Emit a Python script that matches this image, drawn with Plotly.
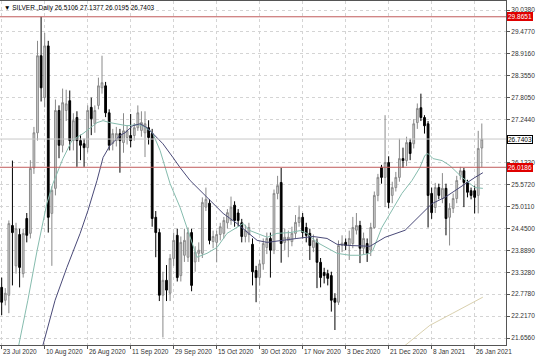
import plotly.graph_objects as go

opens = [22.95, 22.62, 22.75, 24.53, 23.50, 24.30, 23.30, 24.71, 24.33, 26.00,
         26.90, 28.87, 27.80, 29.12, 24.84, 25.48, 27.47, 26.58, 27.47, 27.72,
         26.70, 27.29, 26.70, 26.62, 26.52, 27.55, 27.13, 27.60, 28.05, 28.10,
         27.41, 26.63, 26.70, 26.88, 26.65, 26.78, 26.83, 26.83, 27.03, 26.96,
         26.90, 27.03, 26.88, 24.74, 24.35, 22.75, 23.13, 22.80, 23.69, 24.28,
         23.25, 23.77, 23.72, 24.35, 23.60, 23.82, 23.82, 25.00, 25.10, 24.12,
         24.10, 24.30, 24.33, 24.60, 24.66, 25.05, 24.85, 24.60, 24.25, 24.30,
         24.05, 23.38, 23.20, 23.55, 23.97, 24.20, 23.90, 25.35, 25.63, 24.10,
         24.15, 24.12, 24.33, 24.61, 24.74, 24.48, 24.33, 23.97, 24.10, 23.59,
         23.33, 23.30, 23.25, 22.67, 22.57, 24.02, 24.10, 24.02, 24.07, 24.41,
         24.53, 23.95, 24.07, 23.90, 24.48, 25.30, 26.02, 25.76, 26.14, 25.30,
         25.50, 25.76, 26.24, 26.19, 26.65, 26.62, 27.16, 27.54, 27.29, 27.13,
         25.35, 24.99, 25.50, 25.22, 25.48, 24.74, 24.97, 25.22, 25.81, 25.93,
         25.63, 25.42, 25.42, 25.30, 26.5106]
highs = [23.20, 22.93, 24.66, 26.19, 24.60, 24.45, 24.45, 24.85, 26.20, 27.05,
         29.25, 29.865, 29.45, 29.25, 25.53, 27.75, 27.60, 28.03, 28.00, 27.98,
         27.40, 27.45, 26.85, 26.75, 27.60, 27.80, 27.60, 28.31, 28.87, 28.20,
         27.50, 27.00, 27.05, 27.00, 27.40, 27.10, 27.38, 27.15, 27.60, 27.45,
         27.45, 27.22, 27.00, 24.90, 24.45, 23.35, 23.52, 23.80, 24.35, 24.45,
         24.25, 24.45, 24.48, 24.45, 24.00, 24.10, 25.25, 25.50, 25.20, 24.40,
         24.40, 24.60, 24.75, 24.95, 25.27, 25.15, 24.95, 24.70, 24.55, 24.60,
         24.20, 23.50, 23.65, 24.20, 24.35, 24.35, 25.45, 25.80, 26.00, 24.45,
         24.40, 24.50, 24.80, 25.04, 24.85, 24.60, 24.45, 24.30, 24.20, 23.70,
         23.45, 23.40, 23.35, 22.80, 24.15, 24.28, 24.20, 24.40, 24.75, 24.85,
         24.65, 24.35, 24.20, 24.60, 25.40, 25.85, 26.08, 27.35, 26.30, 25.65,
         25.90, 26.75, 26.52, 26.80, 26.75, 27.25, 27.65, 27.90, 27.35, 27.20,
         25.50, 25.62, 25.60, 25.87, 25.60, 25.10, 25.35, 25.80, 26.03, 26.00,
         25.70, 25.50, 25.55, 26.95, 27.1377]
lows = [22.24, 22.49, 22.29, 23.00, 23.30, 22.95, 23.20, 24.10, 24.20, 25.85,
        26.70, 27.70, 27.55, 24.35, 23.50, 25.30, 26.25, 26.40, 27.20, 26.45,
        26.45, 26.03, 26.20, 26.03, 26.40, 26.84, 26.90, 27.50, 27.90, 27.30,
        26.45, 26.45, 26.55, 25.88, 26.39, 26.60, 26.53, 26.70, 26.95, 26.80,
        26.28, 26.60, 24.50, 23.72, 22.60, 21.67, 22.60, 22.60, 23.50, 23.10,
        23.10, 23.60, 23.60, 22.85, 23.35, 23.60, 23.70, 24.90, 24.05, 23.95,
        23.59, 24.15, 24.20, 24.45, 24.55, 24.50, 24.50, 24.10, 24.10, 24.10,
        23.00, 22.57, 23.00, 23.40, 23.80, 23.20, 23.80, 25.20, 23.58, 23.90,
        23.72, 24.00, 24.20, 24.50, 24.20, 24.10, 23.65, 23.85, 22.93, 22.95,
        23.05, 23.00, 22.33, 21.86, 22.50, 23.85, 23.90, 23.65, 23.95, 24.30,
        23.57, 23.80, 23.60, 23.75, 24.45, 25.15, 25.60, 25.00, 24.97, 25.10,
        25.40, 25.65, 26.00, 26.05, 26.20, 26.50, 27.00, 27.20, 26.88, 24.48,
        24.70, 24.85, 25.20, 25.10, 24.28, 24.02, 24.85, 25.10, 25.70, 25.00,
        25.25, 25.20, 24.84, 24.84, 26.0195]
closes = [22.57, 22.80, 24.58, 24.35, 24.45, 23.46, 24.33, 24.28, 25.99, 26.90,
          28.87, 28.05, 29.12, 24.74, 25.43, 27.47, 26.58, 27.67, 27.64, 26.70,
          27.21, 26.70, 26.58, 26.52, 27.47, 27.26, 27.47, 28.10, 28.18, 27.41,
          26.58, 26.88, 26.88, 26.70, 26.95, 26.95, 26.70, 27.03, 27.41, 27.16,
          27.13, 26.78, 24.71, 24.35, 22.75, 23.13, 22.88, 23.69, 24.15, 23.20,
          24.10, 24.15, 24.35, 23.00, 23.85, 23.90, 25.12, 25.20, 24.15, 24.25,
          24.30, 24.50, 24.66, 24.86, 25.00, 24.66, 24.66, 24.25, 24.40, 24.48,
          23.35, 23.20, 23.55, 24.07, 24.20, 23.90, 25.35, 25.55, 24.07, 24.23,
          24.23, 24.33, 24.61, 24.74, 24.35, 24.28, 24.02, 24.15, 23.59, 23.20,
          23.25, 23.18, 22.62, 22.57, 24.02, 24.08, 24.02, 24.20, 24.48, 24.53,
          23.95, 24.20, 23.82, 24.48, 25.30, 25.76, 25.76, 26.14, 25.12, 25.50,
          25.76, 26.24, 26.19, 26.65, 26.37, 27.13, 27.52, 27.29, 27.08, 25.30,
          24.86, 25.50, 25.30, 25.48, 24.71, 24.97, 25.22, 25.68, 25.93, 25.63,
          25.38, 25.30, 25.25, 26.50, 26.7403]
bar_idx = list(range(len(opens)))

# moving averages (bar position, value)
ma_fast_x = [4.6, 7.3, 9.9, 12.6, 14.3, 17.1, 19.6, 22.7, 26.6, 28.3, 30.2, 32.5, 35, 37.8, 39.4,
             41.4, 42.2, 44.2, 47, 49.8, 51.7, 54.5, 57.3, 60.1, 62.9, 65.7, 67.4, 69.3, 71.3, 74.1,
             76.8, 80.5, 83.3, 85.2, 88, 90.8, 93.6, 97.2, 100, 102.8, 103.6, 106.1, 108.4, 111.7,
             114.5, 116.7, 118.1, 119, 120.4, 122.9, 125.1, 127.1, 128.5, 132.1, 134.3]
ma_fast_y = [21.40, 22.62, 23.90, 25.09, 25.60, 26.24, 26.70, 26.88, 27.16, 27.21, 27.16, 27.13, 27.08, 27.11, 27.08,
             26.95, 26.88, 26.45, 25.60, 24.99, 24.48, 23.72, 23.82, 23.97, 24.33, 24.48, 24.58, 24.40, 24.33, 24.23,
             24.33, 24.35, 24.40, 24.33, 24.10, 23.95, 23.82, 23.77, 23.77, 23.82, 23.90, 24.48, 24.84, 25.35,
             25.68, 26.01, 26.32, 26.37, 26.24, 26.19, 26.06, 25.88, 25.76, 25.50, 25.48]
ma_slow_x = [11.3, 14.9, 18.2, 21.9, 24.1, 26.6, 28.3, 30.2, 33, 34.4, 36.6, 38.6, 40.6, 42.2, 45,
             47.8, 49.8, 52.6, 57.3, 61.8, 65.7, 68.5, 71.3, 74.1, 77.7, 82.4, 86.9, 90.8, 93.6, 97.2,
             102.8, 107, 112.6, 117.3, 120.1, 123.7, 126.5, 129.3, 132.1, 134.3]
ma_slow_y = [21.40, 22.62, 23.46, 24.33, 24.92, 25.68, 26.27, 26.57, 26.83, 26.90, 27.08, 27.13, 27.03, 26.88, 26.62,
             26.27, 26.01, 25.68, 25.25, 24.84, 24.58, 24.37, 24.15, 24.10, 24.15, 24.20, 24.25, 24.20, 24.05, 24.02,
             24.00, 24.23, 24.41, 24.84, 25.09, 25.25, 25.42, 25.60, 25.76, 25.88]
ma_long_x = [111.7, 119.5, 125.9, 134.3]
ma_long_y = [21.40, 21.98, 22.29, 22.70]

level_hi = 29.8651
level_mid = 26.0186
last_price = 26.7403

ytick_vals = [30.0380, 29.4770, 28.9160, 28.3550, 27.8050, 27.2440, 26.1330, 25.5720, 25.0110,
              24.4500, 23.8890, 23.3280, 22.7780, 22.2170, 21.6560]
ytick_text = ["%.4f" % v for v in ytick_vals]
xtick_pos = [0, 12, 24, 36, 48, 60, 72, 84, 96, 108, 120, 132]
xtick_text = ["23 Jul 2020", "10 Aug 2020", "26 Aug 2020", "11 Sep 2020", "29 Sep 2020", "15 Oct 2020",
              "30 Oct 2020", "17 Nov 2020", "3 Dec 2020", "21 Dec 2020", "8 Jan 2021", "26 Jan 2021"]
title_text = "\u25bc SILVER.,Daily 26.5106 27.1377 26.0195 26.7403"

FONT = "Liberation Sans, Arial, sans-serif"
fig = go.Figure()
fig.add_trace(go.Candlestick(
    x=bar_idx, open=opens, high=highs, low=lows, close=closes,
    increasing=dict(line=dict(color="#8a8a8a", width=1), fillcolor="#d4d4d4"),
    decreasing=dict(line=dict(color="#000000", width=1), fillcolor="#000000"),
    whiskerwidth=0, showlegend=False, hoverinfo="skip"))
fig.add_trace(go.Scatter(x=ma_long_x, y=ma_long_y, mode="lines",
                         line=dict(color="#d9d0ae", width=1), showlegend=False, hoverinfo="skip"))
fig.add_trace(go.Scatter(x=ma_fast_x, y=ma_fast_y, mode="lines",
                         line=dict(color="#86bcae", width=1), showlegend=False, hoverinfo="skip"))
fig.add_trace(go.Scatter(x=ma_slow_x, y=ma_slow_y, mode="lines",
                         line=dict(color="#4a4a78", width=1), showlegend=False, hoverinfo="skip"))

fig.add_hline(y=level_hi, line=dict(color="#c05a5a", width=1))
fig.add_hline(y=level_mid, line=dict(color="#c05a5a", width=1))
fig.add_hline(y=last_price, line=dict(color="#c8c8c8", width=1))

annots = []
for pos, txt in zip(xtick_pos, xtick_text):
    annots.append(dict(x=pos, y=0, xref="x", yref="paper", text=txt, showarrow=False,
                       xanchor="left", yanchor="top", xshift=-1, yshift=-1,
                       font=dict(family=FONT, size=6.5, color="#333333")))
for val, bg, fg in [(level_hi, "#e00000", "#ffffff"), (level_mid, "#e00000", "#ffffff"),
                    (last_price, "#ffffff", "#000000")]:
    annots.append(dict(x=1, y=val, xref="paper", yref="y", text="%.4f" % val, showarrow=False,
                       xanchor="left", yanchor="middle", xshift=1,
                       bgcolor=bg, bordercolor="#000000" if bg == "#ffffff" else bg, borderwidth=1,
                       borderpad=0, font=dict(family=FONT, size=6.5, color=fg)))
annots.append(dict(x=0, y=1, xref="paper", yref="paper", text=title_text, showarrow=False,
                   xanchor="left", yanchor="top", xshift=2, yshift=-1,
                   font=dict(family=FONT, size=6.5, color="#000000")))

fig.update_layout(
    width=536, height=357, margin=dict(l=0, r=30, t=1, b=12),
    paper_bgcolor="#ffffff", plot_bgcolor="#ffffff",
    annotations=annots,
    xaxis=dict(range=[-0.47, 140.75], rangeslider=dict(visible=False), tickvals=xtick_pos,
               showticklabels=False, ticks="outside", ticklen=3, tickcolor="#555555",
               showgrid=True, gridcolor="#d4d4d4", griddash="dot", gridwidth=1,
               showline=True, linecolor="#555555", mirror=True, zeroline=False),
    yaxis=dict(range=[21.477, 30.268], side="right", tickvals=ytick_vals, ticktext=ytick_text,
               ticks="outside", ticklen=3, tickcolor="#555555",
               tickfont=dict(family=FONT, size=6.5, color="#333333"),
               showgrid=True, gridcolor="#d4d4d4", griddash="dot", gridwidth=1,
               showline=True, linecolor="#555555", mirror=True, zeroline=False),
)
fig.write_html("out.html")
